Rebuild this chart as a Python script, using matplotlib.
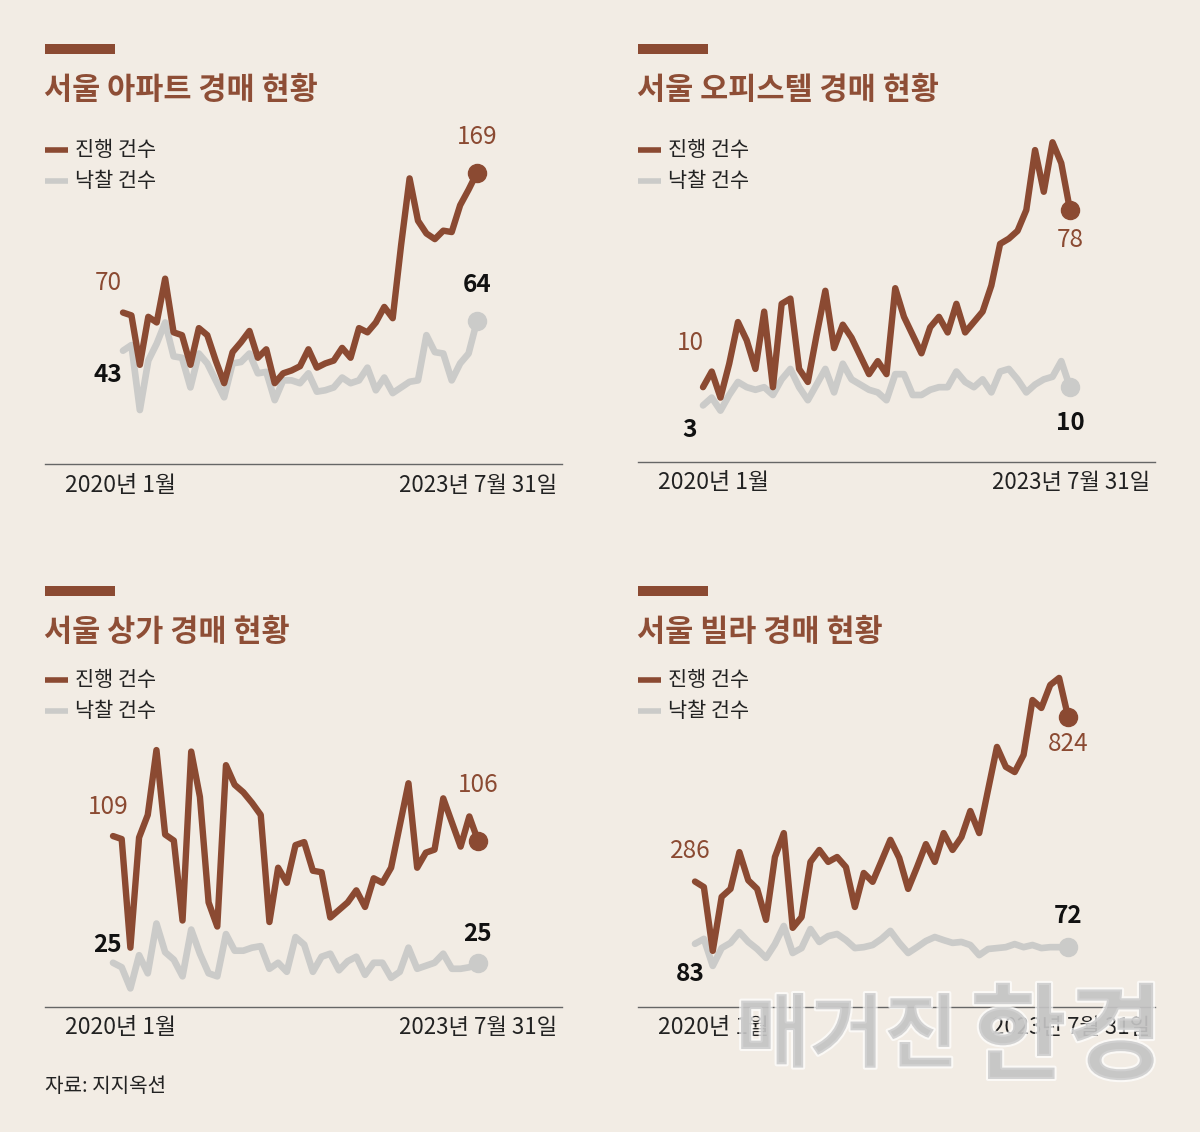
import matplotlib
matplotlib.use('Agg')
import matplotlib.pyplot as plt
import matplotlib.patheffects as pe
from matplotlib.patches import Rectangle
from matplotlib.lines import Line2D

plt.rcParams['font.family'] = ['Noto Sans CJK KR', 'DejaVu Sans']

# ---------------- data (monthly, Jan 2020 .. Jul 2023) ----------------
months = list(range(43))
start_label = '2020년 1월'
end_label = '2023년 7월 31일'

apt_total = [70, 68, 33, 67, 63, 94, 56, 54, 33, 59, 54, 36, 20, 42, 49, 57, 38, 44, 20, 27,
             29, 32, 44, 31, 34, 36, 45, 38, 59, 56, 63, 74, 66, 118, 165, 135, 126, 122, 128, 127,
             146, 157, 169]
apt_sold = [43, 47, 1, 36, 48, 63, 39, 38, 17, 41, 34, 22, 10, 34, 35, 41, 27, 28, 8, 22,
            22, 20, 27, 14, 15, 17, 24, 20, 22, 31, 15, 24, 13, 17, 21, 22, 54, 42, 41, 22,
            34, 41, 64]

off_total = [10, 16, 6, 19, 35, 28, 17, 39, 10, 42, 44, 17, 12, 30, 47, 25, 34, 29, 22, 15,
             20, 15, 48, 37, 30, 23, 33, 37, 31, 42, 31, 35, 39, 49, 65, 67, 70, 78, 101, 85,
             104, 96, 78]
off_sold = [3, 6, 1, 7, 12, 10, 9, 10, 7, 13, 17, 10, 5, 11, 17, 8, 19, 13, 11, 9,
            8, 5, 15, 15, 7, 7, 9, 10, 10, 16, 12, 10, 13, 8, 16, 17, 13, 8, 11, 13,
            14, 20, 10]

shop_total = [109, 107, 35, 108, 123, 166, 110, 106, 53, 165, 135, 65, 49, 156, 143, 138, 131, 123, 52, 88,
              78, 103, 105, 86, 85, 55, 60, 65, 73, 62, 81, 78, 88, 116, 144, 88, 98, 100, 134, 118,
              102, 122, 106]
shop_sold = [25, 22, 8, 30, 18, 51, 32, 27, 16, 47, 31, 18, 16, 44, 33, 33, 35, 36, 21, 25,
             19, 42, 37, 19, 29, 31, 20, 26, 29, 17, 25, 25, 15, 19, 35, 21, 23, 25, 31, 21,
             21, 22, 25]

villa_total = [286, 268, 60, 236, 262, 382, 290, 262, 161, 366, 444, 135, 170, 350, 389, 350, 366, 333, 203, 314,
               285, 353, 422, 363, 262, 333, 408, 350, 444, 389, 431, 516, 444, 585, 725, 660, 643, 699, 878, 852,
               927, 950, 824]
villa_sold = [83, 99, 11, 69, 86, 121, 89, 66, 37, 82, 141, 53, 69, 131, 89, 108, 115, 95, 69, 72,
              79, 99, 125, 86, 53, 72, 92, 105, 95, 86, 89, 79, 46, 66, 69, 72, 82, 72, 79, 69,
              72, 72, 72]

titles = ['서울 아파트 경매 현황', '서울 오피스텔 경매 현황', '서울 상가 경매 현황', '서울 빌라 경매 현황']
legend_labels = ['진행 건수', '낙찰 건수']
source_text = '자료: 지지옥션'

# ---------------- style ----------------
W, H = 1200, 1132
BG = '#F2ECE4'
BROWN = '#8B4A32'
TITLE_C = '#8E4E36'
GRAY = '#CBCBC9'
TEXT = '#222222'

fig = plt.figure(figsize=(W / 100, H / 100), dpi=100, facecolor=BG)


def fx(x):
    return x / W


def fy(y):
    return 1 - y / H


def panel_axes(box, x_first, x_last, n, a, b):
    # box in image pixels (left, top, right, bottom); value = a - b * y_pixel
    L, T, R, B = box
    ax = fig.add_axes([fx(L), fy(B), (R - L) / W, (B - T) / H])
    dx = (x_last - x_first) / (n - 1)
    ax.set_xlim((L - x_first) / dx, (R - x_first) / dx)
    ax.set_ylim(a - b * B, a - b * T)
    ax.axis('off')
    ax.patch.set_alpha(0)
    return ax


panels = [
    dict(title=titles[0], total=apt_total, sold=apt_sold, left=45, right=562, top=0,
         plot=(80, 120, 520, 450), xf=123, xl=477, a=291.3, b=0.708, base_y=464, date_y=486,
         lab=[(-15, 30), (-15, -24), (0, 36), (0, 36)]),
    dict(title=titles[1], total=off_total, sold=off_sold, left=638, right=1155, top=0,
         plot=(660, 120, 1110, 450), xf=703, xl=1070, a=158.6, b=0.3838, base_y=462, date_y=483,
         lab=[(-13, 44), (-13, -25), (0, -30), (0, -36)]),
    dict(title=titles[2], total=shop_total, sold=shop_sold, left=45, right=562, top=542,
         plot=(80, 720, 520, 1000), xf=113, xl=478, a=663.3, b=0.663, base_y=1007, date_y=1028,
         lab=[(-5, 29), (-5, 18), (0, 56), (0, 29)]),
    dict(title=titles[3], total=villa_total, sold=villa_sold, left=638, right=1155, top=542,
         plot=(660, 660, 1110, 1000), xf=695, xl=1068, a=3160.7, b=3.261, base_y=1007, date_y=1028,
         lab=[(-5, 31), (-5, -30), (0, -27), (0, 31)]),
]

for p in panels:
    L = p['left']
    t0 = p['top']
    # brown bar above title
    fig.patches.append(Rectangle((fx(L), fy(t0 + 54)), 70 / W, 10 / H, transform=fig.transFigure,
                                 facecolor=BROWN, edgecolor='none'))
    fig.text(fx(L - 1), fy(t0 + 90), p['title'], fontsize=22, fontweight='bold', color=TITLE_C,
             ha='left', va='center')
    # legend
    for k, (lab, col) in enumerate(zip(legend_labels, [BROWN, GRAY])):
        yy = t0 + 150 + 31 * k if t0 == 0 else t0 + 138 + 31 * k
        fig.lines.append(Line2D([fx(L), fx(L + 23)], [fy(yy), fy(yy)], transform=fig.transFigure,
                                color=col, lw=4, solid_capstyle='butt'))
        fig.text(fx(L + 30), fy(yy), lab, fontsize=15, color=TEXT, ha='left', va='center')
    # baseline
    fig.lines.append(Line2D([fx(L), fx(p['right'])], [fy(p['base_y']), fy(p['base_y'])],
                            transform=fig.transFigure, color='#666666', lw=1.0))
    fig.text(fx(L + 20), fy(p['date_y']), start_label, fontsize=16.5, color=TEXT, ha='left', va='center')
    fig.text(fx(p['right'] - 5), fy(p['date_y']), end_label, fontsize=16, color=TEXT, ha='right', va='center')

    ax = panel_axes(p['plot'], p['xf'], p['xl'], len(months), p['a'], p['b'])
    ax.plot(months, p['sold'], color=GRAY, lw=4.8, solid_joinstyle='round', solid_capstyle='round', zorder=2)
    ax.plot(months, p['total'], color=BROWN, lw=4.6, solid_joinstyle='round', solid_capstyle='round', zorder=3)
    ax.plot([months[-1]], [p['sold'][-1]], 'o', color=GRAY, ms=13, zorder=2)
    ax.plot([months[-1]], [p['total'][-1]], 'o', color=BROWN, ms=13, zorder=3)

    pts = [(months[0], p['total'][0], BROWN, 'normal'),
           (months[0], p['sold'][0], '#111111', 'bold'),
           (months[-1], p['total'][-1], BROWN, 'normal'),
           (months[-1], p['sold'][-1], '#111111', 'bold')]
    for (xx, vv, col, wt), off in zip(pts, p['lab']):
        ax.annotate(f'{vv}', xy=(xx, vv), xytext=off, textcoords='offset pixels',
                    ha='center', va='center', fontsize=17.5, color=col, fontweight=wt,
                    annotation_clip=False, zorder=5)

fig.text(fx(45), fy(1086), source_text, fontsize=14.5, color=TEXT, ha='left', va='center')

# watermark (semi-transparent, drawn over the chart as in the source image)
wm_fx = [pe.withStroke(linewidth=3, foreground='#FFFFFF')]
fig.text(fx(847), fy(1037), '매거진', fontsize=58, fontweight='bold', color='#C4C4C4', alpha=0.7,
         ha='center', va='center', path_effects=wm_fx, zorder=10)
fig.text(fx(1067), fy(1040), '한경', fontsize=76, fontweight='bold', color='#C4C4C4', alpha=0.7,
         ha='center', va='center', path_effects=wm_fx, zorder=10)

fig.savefig('out.png', dpi=100, facecolor=BG)
